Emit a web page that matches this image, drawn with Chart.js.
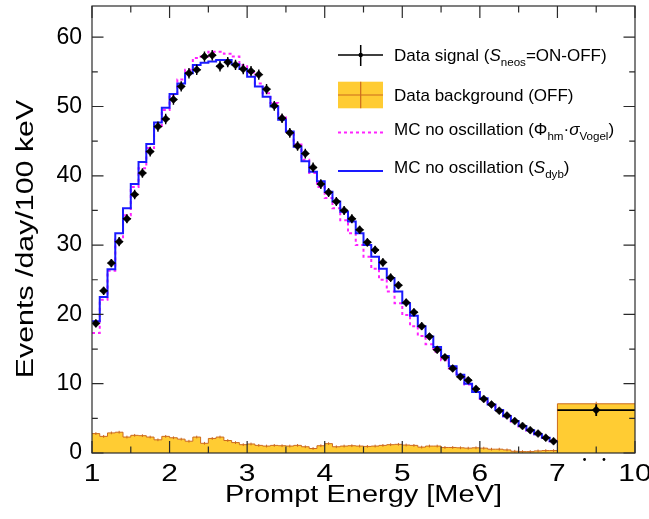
<!DOCTYPE html>
<html>
<head>
<meta charset="utf-8">
<script src="https://cdn.jsdelivr.net/npm/chart.js@4.4.1/dist/chart.umd.min.js"></script>
<style>
  html, body { margin: 0; padding: 0; background: #ffffff; }
  canvas { display: block; }
</style>
</head>
<body>
<canvas id="spectrum" width="649" height="519"></canvas>
<script>
const FONT = '"Liberation Sans", Arial, Helvetica, sans-serif';

// Binning: 0.1 MeV bins from 1 to 7 MeV, then one wide bin from 7 to 10 MeV
const binStart = 1.0;
const binWidth = 0.1;
const wideBin = [7, 10];

// Measured IBD signal (ON - OFF), events/day/100 keV, one value per 0.1 MeV bin
const signal = [
  18.7, 23.4, 27.4, 30.5, 33.8, 37.3, 40.4, 43.5, 47.1, 48.2,
  51.0, 52.9, 54.8, 55.3, 57.2, 57.4, 55.8, 56.4, 56.0, 55.4,
  55.1, 54.6, 52.5, 50.1, 48.3, 46.2, 44.3, 43.2, 41.2, 38.8,
  37.6, 36.3, 35.0, 33.8, 32.2, 30.4, 29.3, 27.5, 25.3, 24.2,
  21.7, 20.3, 18.3, 16.8, 14.9, 13.8, 12.2, 11.0, 10.5, 9.25,
  7.8, 7.0, 6.1, 5.4, 4.6, 3.9, 3.3, 2.8, 2.2, 1.7
];
const signalWide = 6.2;
const signalErr = [
  0.55, 0.6, 0.6, 0.65, 0.65, 0.7, 0.7, 0.7, 0.75, 0.75,
  0.75, 0.75, 0.75, 0.75, 0.75, 0.75, 0.75, 0.75, 0.75, 0.75,
  0.75, 0.75, 0.75, 0.7, 0.7, 0.7, 0.7, 0.7, 0.7, 0.7,
  0.65, 0.65, 0.65, 0.65, 0.6, 0.6, 0.6, 0.6, 0.6, 0.55,
  0.55, 0.55, 0.55, 0.5, 0.5, 0.5, 0.5, 0.45, 0.45, 0.45,
  0.4, 0.4, 0.4, 0.4, 0.35, 0.35, 0.35, 0.35, 0.3, 0.3
];
const signalWideErr = 0.85;

// MC prediction without oscillation, Daya Bay flux (S_dyb)
const mcDyb = [
  19.0, 22.5, 26.5, 31.7, 35.3, 38.8, 42.0, 44.6, 47.7, 49.8,
  51.8, 53.3, 54.8, 56.0, 56.3, 56.5, 56.7, 56.7, 56.1, 55.4,
  54.3, 52.9, 51.4, 50.0, 48.1, 46.4, 44.2, 42.1, 40.6, 39.2,
  37.7, 36.3, 34.8, 33.4, 31.7, 30.0, 28.3, 26.6, 25.2, 23.3,
  21.6, 19.8, 18.3, 16.8, 15.3, 14.0, 12.5, 11.3, 10.0, 8.8,
  7.9, 7.0, 6.2, 5.3, 4.6, 3.9, 3.3, 2.7, 2.2, 1.7
];

// MC prediction without oscillation, Huber-Mueller flux x Vogel cross section
const mcVogel = [
  17.3, 22.1, 26.3, 30.8, 34.3, 38.4, 41.1, 44.0, 47.0, 49.5,
  51.7, 53.9, 55.3, 57.0, 57.2, 57.9, 57.9, 57.6, 57.2, 56.0,
  54.9, 53.3, 51.9, 50.5, 48.6, 46.4, 44.5, 42.3, 40.4, 38.4,
  36.8, 35.3, 33.6, 31.7, 30.0, 28.3, 26.6, 25.0, 23.3, 21.6,
  19.9, 18.3, 16.9, 15.7, 14.6, 13.4, 12.2, 11.0, 9.9, 8.8,
  7.8, 6.9, 6.1, 5.3, 4.5, 3.8, 3.2, 2.7, 2.2, 1.7
];

// Reactor-off background spectrum
const background = [
  2.8, 2.4, 2.9, 3.0, 2.3, 2.55, 2.5, 2.3, 1.9, 2.4,
  2.2, 2.0, 1.7, 2.3, 1.4, 2.1, 2.3, 1.8, 1.5, 1.2,
  1.3, 1.1, 1.0, 1.1, 1.05, 1.0, 1.1, 0.9, 0.65, 1.05,
  1.35, 0.9, 1.0, 1.05, 1.0, 0.95, 1.0, 1.1, 1.2, 1.25,
  1.15, 1.1, 0.85, 1.0, 1.0, 0.8, 0.8, 0.75, 0.7, 0.75,
  0.7, 0.55, 0.55, 0.45, 0.25, 0.2, 0.2, 0.3, 0.35, 0.35
];
const backgroundWide = 7.1;
const backgroundErr = 0.2;

// Axis ticks
const xTickMeV = [1, 2, 3, 4, 5, 6, 7, 10];
const xTickLabels = ['1', '2', '3', '4', '5', '6', '7', '10'];
const xMinorMeV = [1.5, 2.5, 3.5, 4.5, 5.5, 6.5, 8.5];
const yTicks = [0, 10, 20, 30, 40, 50, 60];
const yMinor = [5, 15, 25, 35, 45, 55];
const yMax = 64.5;

// Legend entries (rich text parts)
const legendEntries = [
  { kind: 'data', parts: [{ t: 'Data signal (' }, { t: 'S', italic: true }, { t: 'neos', sub: true }, { t: '=ON-OFF)' }] },
  { kind: 'bkg', parts: [{ t: 'Data background (OFF)' }] },
  { kind: 'vogel', parts: [{ t: 'MC no oscillation (' }, { t: 'Φ' }, { t: 'hm', sub: true }, { t: '·' }, { t: 'σ', italic: true }, { t: 'Vogel', sub: true }, { t: ')' }] },
  { kind: 'dyb', parts: [{ t: 'MC no oscillation (' }, { t: 'S', italic: true }, { t: 'dyb', sub: true }, { t: ')' }] }
];

const COLORS = {
  data: '#000000',
  dyb: '#1a1aff',
  vogel: '#ff22ff',
  bkgFill: '#ffcc33',
  bkgLine: '#cc6a1e',
  frame: '#2a2a2a'
};

// The 7-10 MeV bin is compressed to one unit on the axis
function toAxis(E) { return E <= 7 ? E : 7 + (E - 7) / 3; }
function binLow(i) { return binStart + i * binWidth; }

// Each point marks a bin's low edge; the closing point carries the last bin to its high edge
function histPoints(vals) {
  const pts = vals.map((v, i) => ({ x: toAxis(binLow(i)), y: v }));
  pts.push({ x: toAxis(wideBin[0]), y: vals[vals.length - 1] });
  return pts;
}

const bkgPoints = background.map((v, i) => ({ x: toAxis(binLow(i)), y: v }));
bkgPoints.push({ x: toAxis(wideBin[0]), y: backgroundWide });
bkgPoints.push({ x: toAxis(wideBin[1]), y: backgroundWide });

const sigPoints = signal.map((v, i) => ({ x: toAxis(binLow(i) + binWidth / 2), y: v }));
sigPoints.push({ x: toAxis((wideBin[0] + wideBin[1]) / 2), y: signalWide });

function drawRich(ctx, x, baseline, parts, size) {
  let cx = x;
  ctx.textAlign = 'left';
  ctx.textBaseline = 'alphabetic';
  for (const p of parts) {
    const fs = p.sub ? size * 0.68 : size;
    ctx.font = (p.italic ? 'italic ' : '') + fs.toFixed(1) + 'px ' + FONT;
    const dy = p.sub ? size * 0.3 : 0;
    ctx.fillText(p.t, cx, baseline + dy);
    cx += ctx.measureText(p.t).width;
  }
}

const decorations = {
  id: 'decorations',
  afterDatasetsDraw(chart) {
    const ctx = chart.ctx;
    const xs = chart.scales.x, ys = chart.scales.y;
    const a = chart.chartArea;
    ctx.save();
    ctx.beginPath();
    ctx.rect(a.left, a.top, a.right - a.left, a.bottom - a.top);
    ctx.clip();

    // background error bars
    ctx.strokeStyle = COLORS.bkgLine;
    ctx.lineWidth = 1;
    background.forEach((v, i) => {
      const x = xs.getPixelForValue(toAxis(binLow(i) + binWidth / 2));
      ctx.beginPath();
      ctx.moveTo(x, ys.getPixelForValue(v - backgroundErr));
      ctx.lineTo(x, ys.getPixelForValue(v + backgroundErr));
      ctx.stroke();
    });
    {
      const x = xs.getPixelForValue(toAxis((wideBin[0] + wideBin[1]) / 2));
      ctx.beginPath();
      ctx.moveTo(x, ys.getPixelForValue(backgroundWide - 0.3));
      ctx.lineTo(x, ys.getPixelForValue(backgroundWide + 0.3));
      ctx.stroke();
    }

    // signal error bars
    ctx.strokeStyle = COLORS.data;
    ctx.lineWidth = 1.4;
    const bar = (lo, hi, v, e) => {
      const y = ys.getPixelForValue(v);
      const xm = xs.getPixelForValue(toAxis((lo + hi) / 2));
      ctx.beginPath();
      ctx.moveTo(xs.getPixelForValue(toAxis(lo)), y);
      ctx.lineTo(xs.getPixelForValue(toAxis(hi)), y);
      ctx.moveTo(xm, ys.getPixelForValue(v - e));
      ctx.lineTo(xm, ys.getPixelForValue(v + e));
      ctx.stroke();
    };
    signal.forEach((v, i) => bar(binLow(i), binLow(i) + binWidth, v, signalErr[i]));
    ctx.lineWidth = 1.8;
    bar(wideBin[0], wideBin[1], signalWide, signalWideErr);
    ctx.restore();

    // frame and inward ticks
    ctx.save();
    ctx.strokeStyle = COLORS.frame;
    ctx.lineWidth = 1.2;
    ctx.strokeRect(a.left, a.top, a.right - a.left, a.bottom - a.top);
    ctx.beginPath();
    const yTick = (v, len) => {
      const y = ys.getPixelForValue(v);
      ctx.moveTo(a.left, y); ctx.lineTo(a.left + len, y);
      ctx.moveTo(a.right, y); ctx.lineTo(a.right - len, y);
    };
    ys.ticks.forEach(t => yTick(t.value, 11.5));
    yMinor.forEach(v => yTick(v, 5.8));
    const xTick = (u, len) => {
      const x = xs.getPixelForValue(u);
      ctx.moveTo(x, a.bottom); ctx.lineTo(x, a.bottom - len);
      ctx.moveTo(x, a.top); ctx.lineTo(x, a.top + len);
    };
    xs.ticks.forEach(t => xTick(t.value, 12));
    xMinorMeV.forEach(E => xTick(toAxis(E), 6.5));
    ctx.stroke();
    ctx.restore();
  },
  afterDraw(chart) {
    const ctx = chart.ctx;
    const xs = chart.scales.x;
    const a = chart.chartArea;
    ctx.save();
    ctx.fillStyle = '#000';

    // x tick labels (wide lettering)
    ctx.font = '23px ' + FONT;
    ctx.textAlign = 'center';
    ctx.textBaseline = 'alphabetic';
    xs.ticks.forEach((t, i) => {
      ctx.save();
      ctx.translate(xs.getPixelForValue(t.value), a.bottom + 27.5);
      ctx.scale(1.3, 1);
      ctx.fillText(xTickLabels[i], 0, 0);
      ctx.restore();
    });

    // small dots under the compressed 7-10 MeV bin
    [8.05, 8.8].forEach(E => {
      ctx.beginPath();
      ctx.arc(xs.getPixelForValue(toAxis(E)), a.bottom + 6.5, 1.4, 0, Math.PI * 2);
      ctx.fill();
    });

    // axis titles
    ctx.save();
    ctx.translate((a.left + a.right) / 2, 501.5);
    ctx.scale(1.26, 1);
    ctx.fillText('Prompt Energy [MeV]', 0, 0);
    ctx.restore();

    ctx.save();
    ctx.translate(33.3, 239);
    ctx.rotate(-Math.PI / 2);
    ctx.scale(1.32, 1);
    ctx.fillText('Events /day/100 keV', 0, 0);
    ctx.restore();

    // legend
    const sx0 = 338, sx1 = 383, sxm = 360.7, tx = 394, size = 17;
    const rows = [55, 95, 128.5, 167];
    legendEntries.forEach((e, i) => {
      const yc = rows[i];
      if (e.kind === 'data') {
        ctx.strokeStyle = COLORS.data;
        ctx.lineWidth = 1.5;
        ctx.beginPath();
        ctx.moveTo(sx0, yc); ctx.lineTo(sx1, yc);
        ctx.moveTo(sxm, yc - 10); ctx.lineTo(sxm, yc + 11);
        ctx.stroke();
        ctx.beginPath();
        ctx.arc(sxm, yc, 2.2, 0, Math.PI * 2);
        ctx.fill();
      } else if (e.kind === 'bkg') {
        ctx.fillStyle = COLORS.bkgFill;
        ctx.fillRect(sx0, yc - 13.3, sx1 - sx0, 26.6);
        ctx.strokeStyle = COLORS.bkgLine;
        ctx.lineWidth = 1.2;
        ctx.beginPath();
        ctx.moveTo(sx0, yc); ctx.lineTo(sx1, yc);
        ctx.moveTo(sxm, yc - 13.3); ctx.lineTo(sxm, yc + 13.3);
        ctx.stroke();
        ctx.fillStyle = '#000';
      } else if (e.kind === 'vogel') {
        ctx.strokeStyle = COLORS.vogel;
        ctx.lineWidth = 2;
        ctx.setLineDash([3, 3]);
        ctx.beginPath();
        ctx.moveTo(sx0, yc + 4); ctx.lineTo(sx1, yc + 4);
        ctx.stroke();
        ctx.setLineDash([]);
      } else {
        ctx.strokeStyle = COLORS.dyb;
        ctx.lineWidth = 2;
        ctx.beginPath();
        ctx.moveTo(sx0, yc + 4); ctx.lineTo(sx1, yc + 4);
        ctx.stroke();
      }
      ctx.fillStyle = '#000';
      drawRich(ctx, tx, yc + 6.3, e.parts, size);
    });
    ctx.restore();
  }
};

new Chart(document.getElementById('spectrum'), {
  type: 'line',
  data: {
    datasets: [
      {
        label: 'Data signal',
        data: sigPoints,
        showLine: false,
        pointStyle: 'rectRot',
        pointRadius: 4,
        pointBackgroundColor: COLORS.data,
        pointBorderColor: COLORS.data,
        pointBorderWidth: 0.5
      },
      {
        label: 'MC no oscillation (S_dyb)',
        data: histPoints(mcDyb),
        stepped: 'before',
        borderColor: COLORS.dyb,
        borderWidth: 2,
        pointRadius: 0,
        fill: false
      },
      {
        label: 'MC no oscillation (Vogel)',
        data: histPoints(mcVogel),
        stepped: 'before',
        borderColor: COLORS.vogel,
        borderWidth: 2,
        borderDash: [3, 3],
        pointRadius: 0,
        fill: false
      },
      {
        label: 'Data background (OFF)',
        data: bkgPoints,
        stepped: 'before',
        borderColor: COLORS.bkgLine,
        borderWidth: 1,
        backgroundColor: COLORS.bkgFill,
        pointRadius: 0,
        fill: 'origin'
      }
    ]
  },
  options: {
    responsive: false,
    animation: false,
    events: [],
    layout: { padding: { left: 0, right: 14, top: 6, bottom: 0 } },
    plugins: { legend: { display: false }, tooltip: { enabled: false } },
    scales: {
      x: {
        type: 'linear',
        min: toAxis(1),
        max: toAxis(10),
        grid: { display: false },
        border: { display: false },
        ticks: { display: false },
        afterBuildTicks: s => { s.ticks = xTickMeV.map(E => ({ value: toAxis(E) })); },
        afterFit: s => { s.height = 66; s.paddingLeft = 0; s.paddingRight = 0; }
      },
      y: {
        type: 'linear',
        min: 0,
        max: yMax,
        grid: { display: false, drawTicks: false },
        border: { display: false },
        ticks: { color: '#000', padding: 10, font: { family: FONT, size: 23 } },
        afterBuildTicks: s => { s.ticks = yTicks.map(v => ({ value: v })); },
        afterFit: s => { s.width = 92; s.paddingTop = 0; s.paddingBottom = 0; }
      }
    }
  },
  plugins: [decorations]
});
</script>
</body>
</html>
